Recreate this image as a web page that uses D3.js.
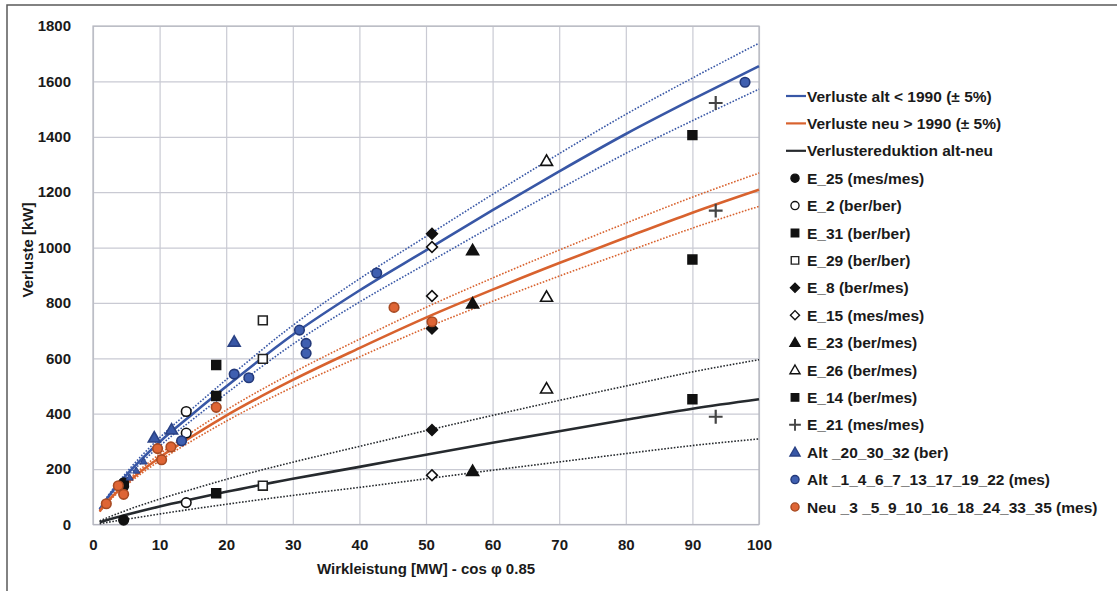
<!DOCTYPE html>
<html>
<head>
<meta charset="utf-8">
<script src="https://cdn.jsdelivr.net/npm/d3@7"></script>
<style>
  body { margin: 0; background: #fff; }
  svg { display: block; }
  text { font-family: "Liberation Sans", Arial, sans-serif; font-weight: bold; fill: #1a1a1a; }
</style>
</head>
<body>
<svg id="chart" width="1117" height="591"></svg>
<script>
const powerMW = [1, 2, 5, 10, 15, 20, 30, 40, 50, 60, 70, 80, 90, 100];

// Verluste alt < 1990 and its +/- 5% band
const altLoss  = [54, 90, 178, 298, 400, 498, 685, 845, 990, 1135, 1275, 1410, 1535, 1655];
const altUpper = [57, 95, 187, 313, 420, 523, 719, 887, 1040, 1192, 1339, 1481, 1612, 1738];
const altLower = [51, 86, 169, 283, 380, 473, 651, 803, 941, 1078, 1211, 1340, 1458, 1572];

// Verluste neu > 1990 and its +/- 5% band
const neuLoss  = [48, 78, 148, 242, 320, 393, 522, 637, 747, 848, 944, 1036, 1126, 1209];
const neuUpper = [50, 82, 155, 254, 336, 413, 548, 669, 784, 890, 991, 1088, 1182, 1269];
const neuLower = [46, 74, 141, 230, 304, 373, 496, 605, 710, 806, 897, 984, 1070, 1149];

// Verlustereduktion alt-neu and its band
const redLoss  = [8, 15, 35, 65, 92, 118, 165, 208, 252, 295, 337, 378, 418, 452];
const redUpper = [13, 23, 51, 92, 128, 163, 225, 282, 339, 394, 448, 500, 551, 595];
const redLower = [3, 7, 19, 38, 56, 73, 105, 134, 165, 196, 226, 256, 285, 309];

// measured / calculated points [MW, kW]
const e25 = [[4.6, 150], [4.6, 138], [4.6, 16]];
const e2  = [[14, 408], [14, 330], [14, 79]];
const e31 = [[18.5, 576], [18.5, 464], [18.5, 113]];
const e29 = [[25.5, 737], [25.5, 598], [25.5, 140]];
const e8  = [[50.9, 1050], [50.9, 708], [50.9, 341]];
const e15 = [[50.9, 1002], [50.9, 825], [50.9, 178]];
const e23 = [[57, 990], [57, 798], [57, 193]];
const e26 = [[68.1, 1313], [68.1, 822], [68.1, 491]];
const e14 = [[90, 1406], [90, 957], [90, 452]];
const e21 = [[93.5, 1522], [93.5, 1133], [93.5, 389]];
const alt203032 = [[5.5, 170], [6.5, 195], [7.6, 228], [9.2, 314], [11.8, 343], [21.2, 660]];
const altMes = [[13.3, 302], [21.2, 543], [23.4, 530], [31.0, 702], [32.0, 654], [32.0, 618], [42.6, 908], [97.9, 1597]];
const neuMes = [[2.0, 75], [3.8, 140], [4.6, 109], [9.7, 274], [10.3, 234], [11.7, 280], [18.5, 423], [45.2, 784], [50.9, 732]];

const xTicks = [0, 10, 20, 30, 40, 50, 60, 70, 80, 90, 100];
const yTicks = [0, 200, 400, 600, 800, 1000, 1200, 1400, 1600, 1800];

const legendLabels = [
  "Verluste alt < 1990 (± 5%)",
  "Verluste neu > 1990 (± 5%)",
  "Verlustereduktion alt-neu",
  "E_25 (mes/mes)",
  "E_2 (ber/ber)",
  "E_31 (ber/ber)",
  "E_29 (ber/ber)",
  "E_8 (ber/mes)",
  "E_15 (mes/mes)",
  "E_23 (ber/mes)",
  "E_26 (ber/mes)",
  "E_14 (ber/mes)",
  "E_21 (mes/mes)",
  "Alt _20_30_32 (ber)",
  "Alt _1_4_6_7_13_17_19_22 (mes)",
  "Neu _3 _5_9_10_16_18_24_33_35 (mes)"
];

const blue = "#3857a6", orange = "#d8622e", dark = "#262a2e";

const svg = d3.select("#chart");

// scanned page frame
svg.append("path")
  .attr("d", "M7,591 L7,5 L1117,5")
  .attr("fill", "none").attr("stroke", "#5a5a5a").attr("stroke-width", 1.5);

const x = d3.scaleLinear().domain([0, 100]).range([93, 759]);
const y = d3.scaleLinear().domain([0, 1800]).range([524.5, 26]);

// grid
svg.append("g")
  .attr("transform", `translate(0,${y(0)})`)
  .call(d3.axisBottom(x).tickValues(xTicks).tickSize(-(y(0) - y(1800))).tickFormat(""))
  .call(g => g.select(".domain").remove())
  .call(g => g.selectAll("line").attr("stroke", "#c9cad3").attr("stroke-width", 1.2));
svg.append("g")
  .attr("transform", `translate(${x(0)},0)`)
  .call(d3.axisLeft(y).tickValues(yTicks).tickSize(-(x(100) - x(0))).tickFormat(""))
  .call(g => g.select(".domain").remove())
  .call(g => g.selectAll("line").attr("stroke", "#c9cad3").attr("stroke-width", 1.2));
svg.append("rect")
  .attr("x", x(0)).attr("y", y(1800))
  .attr("width", x(100) - x(0)).attr("height", y(0) - y(1800))
  .attr("fill", "none").attr("stroke", "#b5b6bf").attr("stroke-width", 1.2);

// tick labels
svg.append("g")
  .attr("transform", `translate(0,${y(0) + 12})`)
  .call(d3.axisBottom(x).tickValues(xTicks).tickSize(0).tickFormat(d3.format("d")))
  .call(g => g.select(".domain").remove())
  .call(g => g.selectAll("text").style("font-size", "15px").style("font-weight", "bold").attr("fill", "#1a1a1a"));
svg.append("g")
  .attr("transform", `translate(${x(0) - 19},0)`)
  .call(d3.axisLeft(y).tickValues(yTicks).tickSize(0).tickFormat(d3.format("d")))
  .call(g => g.select(".domain").remove())
  .call(g => g.selectAll("text").style("font-size", "15px").style("font-weight", "bold").attr("fill", "#1a1a1a"));

svg.append("text")
  .attr("x", x(50)).attr("y", 574)
  .attr("text-anchor", "middle").style("font-size", "15px")
  .text("Wirkleistung [MW] - cos φ 0.85");
svg.append("text")
  .attr("transform", "translate(33,250) rotate(-90)")
  .attr("text-anchor", "middle").style("font-size", "15px")
  .text("Verluste [kW]");

// curves
const curve = d3.line()
  .x((d, i) => x(powerMW[i]))
  .y(d => y(d))
  .curve(d3.curveMonotoneX);

const plot = svg.append("g");
[
  [altUpper, blue, true], [altLower, blue, true],
  [neuUpper, orange, true], [neuLower, orange, true],
  [redUpper, dark, true], [redLower, dark, true],
  [altLoss, blue, false], [neuLoss, orange, false], [redLoss, dark, false]
].forEach(([vals, col, dotted]) => {
  plot.append("path")
    .attr("d", curve(vals))
    .attr("fill", "none")
    .attr("stroke", col)
    .attr("stroke-width", dotted ? 1.6 : 2.6)
    .attr("stroke-dasharray", dotted ? "1.6,1.6" : null);
});

// markers
const markerStyles = [
  { data: e25, type: "circle", fill: "#111", stroke: "#111" },
  { data: e2, type: "circle", fill: "#fff", stroke: "#111" },
  { data: e31, type: "square", fill: "#111", stroke: "#111" },
  { data: e29, type: "square", fill: "#fff", stroke: "#222" },
  { data: e8, type: "diamond", fill: "#111", stroke: "#111" },
  { data: e15, type: "diamond", fill: "#fff", stroke: "#111" },
  { data: e23, type: "triangle", fill: "#111", stroke: "#111" },
  { data: e26, type: "triangle", fill: "#fff", stroke: "#111" },
  { data: e14, type: "square", fill: "#111", stroke: "#111" },
  { data: e21, type: "plus", fill: "none", stroke: "#444" },
  { data: alt203032, type: "triangle", fill: blue, stroke: "#2a4285" },
  { data: altMes, type: "circle", fill: "#3f5fb0", stroke: "#23397a" },
  { data: neuMes, type: "circle", fill: "#de6535", stroke: "#a84a22" }
];

const symbolPath = {
  circle: d3.symbol().type(d3.symbolCircle).size(72)(),
  square: d3.symbol().type(d3.symbolSquare).size(78)(),
  diamond: d3.symbol().type(d3.symbolSquare).size(58)(),
  triangle: d3.symbol().type(d3.symbolTriangle).size(62)(),
  plus: d3.symbol().type(d3.symbolPlus).size(64)()
};

function drawMarker(g, type, fill, stroke, scale) {
  let t = type === "diamond" ? "rotate(45)" : type === "triangle" ? "translate(0,1)" : "";
  if (scale) t = `scale(${scale}) ` + t;
  g.append("path")
    .attr("d", symbolPath[type])
    .attr("transform", t || null)
    .attr("fill", fill)
    .attr("stroke", stroke)
    .attr("stroke-width", type === "plus" ? 2.2 : 1.6);
}

markerStyles.forEach(s => {
  s.data.forEach(([px, py]) => {
    const g = plot.append("g").attr("transform", `translate(${x(px)},${y(py)})`);
    // the low-power triangles of the alt group are tiny and crowded on the curve
    const sc = (s.data === alt203032 && px < 8) ? 0.6 : null;
    drawMarker(g, s.type, s.fill, s.stroke, sc);
  });
});

// legend
const legend = svg.append("g");
const lineCols = [blue, orange, dark];
legendLabels.forEach((label, i) => {
  const ly = 96 + i * 27.4;
  const row = legend.append("g").attr("transform", `translate(0,${ly})`);
  if (i < 3) {
    row.append("line").attr("x1", 786).attr("x2", 806).attr("y1", 0).attr("y2", 0)
      .attr("stroke", lineCols[i]).attr("stroke-width", 2.2);
  } else {
    const s = markerStyles[i - 3];
    const g = row.append("g").attr("transform", "translate(795,0) scale(0.85)");
    drawMarker(g, s.type, s.fill, s.stroke);
  }
  row.append("text")
    .attr("x", 807).attr("y", 0).attr("dy", "0.36em")
    .style("font-size", "15.5px")
    .text(label);
});
</script>
</body>
</html>
